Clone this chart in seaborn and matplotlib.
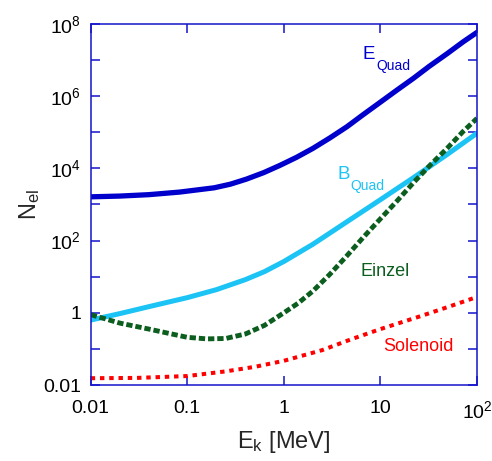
import matplotlib
matplotlib.use("Agg")
import matplotlib.pyplot as plt
import seaborn as sns

# -----------------------------------------------------------------------
# Data (E_k in MeV, N_el)
# -----------------------------------------------------------------------
E_QUAD_X = [0.01, 0.02, 0.04, 0.083, 0.19, 0.28, 0.41, 0.62, 0.91, 1.35, 2,
            3, 4.5, 6.6, 10, 14.8, 22, 32, 49, 72, 100]
E_QUAD_Y = [1620, 1700, 1860, 2190, 2880, 3630, 5010, 7590, 12000, 20000,
            35500, 69200, 141000, 302000, 676000, 1.45e6, 3.09e6, 6.61e6,
            1.48e7, 3.16e7, 5.75e7]

B_QUAD_X = [0.01, 0.02, 0.04, 0.1, 0.2, 0.4, 0.63, 1, 2, 4.5, 10, 22, 49, 100]
B_QUAD_Y = [0.63, 0.95, 1.48, 2.63, 4.37, 8.3, 13.8, 26.3, 79, 331, 1350, 5500,
            24000, 93300]

EINZEL_X = [0.01, 0.02, 0.04, 0.1, 0.16, 0.25, 0.4, 0.63, 1, 1.41, 2, 3,
            4.5, 6.6, 10, 14.8, 22, 32, 49, 72, 100]
EINZEL_Y = [0.89, 0.52, 0.355, 0.21, 0.19, 0.195, 0.26, 0.45, 1.0, 1.86, 4.0,
            11.7, 38, 120, 400, 1230, 4000, 11500, 35500, 105000, 240000]

SOLENOID_X = [0.01, 0.03, 0.1, 0.25, 0.5, 1, 2.5, 5, 10, 25, 50, 100]
SOLENOID_Y = [0.0155, 0.0158, 0.0178, 0.024, 0.032, 0.047, 0.093, 0.186,
              0.355, 0.78, 1.45, 2.75]

X_TICKS = [0.01, 0.1, 1, 10, 100]
X_TICK_LABELS = ["0.01", "0.1", "1", "10", r"$\mathregular{10^{2}}$"]
Y_TICKS = [1e-2, 1e-1, 1, 1e1, 1e2, 1e3, 1e4, 1e5, 1e6, 1e7, 1e8]
Y_TICK_LABELS = ["0.01", "", "1", "", r"$\mathregular{10^{2}}$", "",
                 r"$\mathregular{10^{4}}$", "", r"$\mathregular{10^{6}}$", "",
                 r"$\mathregular{10^{8}}$"]

C_EQUAD = "#0000CC"
C_BQUAD = "#1CC3F5"
C_EINZEL = "#0B5E1E"
C_SOLENOID = "#FF0000"
C_AXIS = "#1414CC"

sns.set_theme(style="ticks")
plt.rcParams["font.family"] = ["Liberation Sans", "DejaVu Sans"]
plt.rcParams["mathtext.fontset"] = "custom"
plt.rcParams["mathtext.rm"] = "Liberation Sans"
plt.rcParams["mathtext.it"] = "Liberation Sans:italic"

fig = plt.figure(figsize=(4.92, 4.61), dpi=100)
ax = fig.add_axes([90.7 / 492, 1 - 385.1 / 461, (477 - 90.7) / 492,
                   (385.1 - 23.7) / 461])

sns.lineplot(x=SOLENOID_X, y=SOLENOID_Y, ax=ax, color=C_SOLENOID,
             linewidth=2.9, linestyle=(0, (1.1, 1.2)), estimator=None, sort=False)
sns.lineplot(x=B_QUAD_X, y=B_QUAD_Y, ax=ax, color=C_BQUAD,
             linewidth=3.6, estimator=None, sort=False)
sns.lineplot(x=EINZEL_X, y=EINZEL_Y, ax=ax, color=C_EINZEL,
             linewidth=3.5, linestyle=(0, (1.3, 0.6)), estimator=None, sort=False)
sns.lineplot(x=E_QUAD_X, y=E_QUAD_Y, ax=ax, color=C_EQUAD,
             linewidth=3.8, estimator=None, sort=False)

ax.set_xscale("log")
ax.set_yscale("log")
ax.set_xlim(0.01, 100)
ax.set_ylim(0.01, 1e8)
ax.minorticks_off()
ax.set_xticks(X_TICKS)
ax.set_xticklabels(X_TICK_LABELS)
ax.set_yticks(Y_TICKS)
ax.set_yticklabels(Y_TICK_LABELS)

for side in ["left", "right", "top", "bottom"]:
    ax.spines[side].set_visible(True)
    ax.spines[side].set_color(C_AXIS)
    ax.spines[side].set_linewidth(1.1)
ax.tick_params(axis="both", which="both", direction="in", length=6.5,
               width=1.1, color=C_AXIS, top=True, right=True,
               labelsize=14, labelcolor="black")
ax.tick_params(axis="x", pad=11)
ax.tick_params(axis="y", pad=7)

ax.set_xlabel(r"$\mathregular{E_{k}}$ [MeV]", fontsize=17, labelpad=5)
ax.set_ylabel(r"$\mathregular{N_{el}}$", fontsize=17, labelpad=1)


# curve labels; subscripts drawn as separate smaller text
def sub_label(x, y, main, sub, color, dx, dy):
    ax.text(x, y, main, color=color, fontsize=13.5, ha="left", va="baseline")
    ax.annotate(sub, xy=(x, y), xytext=(dx, dy), textcoords="offset points",
                color=color, fontsize=10, ha="left", va="baseline")


sub_label(6.6, 1.05e7, "E", "Quad", C_EQUAD, 9.9, -7.9)
sub_label(3.63, 4900, "B", "Quad", C_BQUAD, 9.1, -7.7)
ax.text(6.2, 10.7, "Einzel", color=C_EINZEL, fontsize=13, ha="left",
        va="baseline")
ax.text(10.7, 0.087, "Solenoid", color=C_SOLENOID, fontsize=13, ha="left",
        va="baseline")

fig.savefig("out.png", dpi=100)
plt.close(fig)
